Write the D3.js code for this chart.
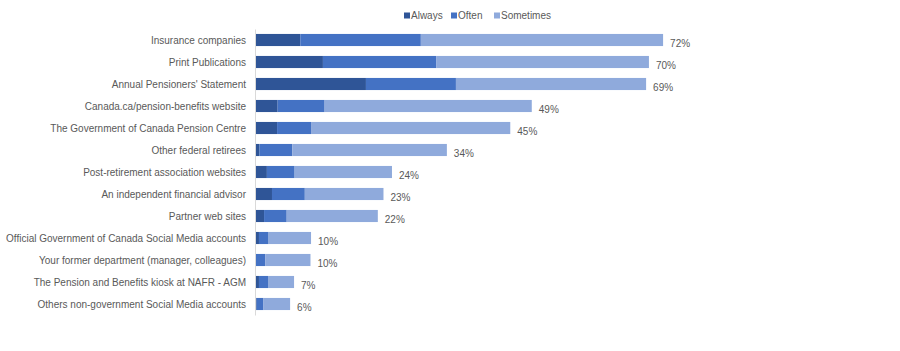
<!DOCTYPE html>
<html>
<head>
<meta charset="utf-8">
<script src="https://cdn.jsdelivr.net/npm/d3@7"></script>
<style>
  body { margin: 0; background: #fff; }
  svg text { font-family: "Liberation Sans", Arial, sans-serif; }
</style>
</head>
<body>
<div id="container"></div>
<script>
const width = 900;
const height = 351;

const categories = [
    'Insurance companies',
    'Print Publications',
    "Annual Pensioners' Statement",
    'Canada.ca/pension-benefits website',
    'The Government of Canada Pension Centre',
    'Other federal retirees',
    'Post-retirement association websites',
    'An independent financial advisor',
    'Partner web sites',
    'Official Government of Canada Social Media accounts',
    'Your former department (manager, colleagues)',
    'The Pension and Benefits kiosk at NAFR - AGM',
    'Others non-government Social Media accounts'
];
const seriesNames = ['Always', 'Often', 'Sometimes'];
const always = [8.0, 12.0, 19.6, 4.0, 3.9, 0.8, 2.1, 3.0, 1.6, 0.7, 0.0, 0.7, 0.3];
const often = [21.3, 20.0, 15.9, 8.3, 6.0, 5.8, 4.9, 5.8, 4.0, 1.7, 1.8, 1.6, 1.2];
const sometimes = [42.8, 37.6, 33.6, 36.6, 35.2, 27.3, 17.2, 13.9, 16.1, 7.5, 8.0, 4.6, 4.7];
const totalLabels = ['72%', '70%', '69%', '49%', '45%', '34%', '24%', '23%', '22%', '10%', '10%', '7%', '6%'];

const colors = ['#2F5597', '#4472C4', '#8FAADC'];

const rows = categories.map((c, i) => ({
    cat: c, Always: always[i], Often: often[i], Sometimes: sometimes[i], label: totalLabels[i]
}));

const svg = d3.select('#container').append('svg')
    .attr('width', width)
    .attr('height', height);

const x = d3.scaleLinear().domain([0, 100]).range([255, 821]);
const y = d3.scaleBand().domain(categories).range([29, 315]).paddingInner(0.45).paddingOuter(0.225);
const color = d3.scaleOrdinal().domain(seriesNames).range(colors);

const stack = d3.stack().keys(seriesNames)(rows);

// bars
svg.append('g')
    .selectAll('g')
    .data(stack)
    .join('g')
    .attr('fill', d => color(d.key))
    .selectAll('rect')
    .data(d => d)
    .join('rect')
    .attr('x', d => x(d[0]))
    .attr('y', d => y(d.data.cat))
    .attr('width', d => x(d[1]) - x(d[0]))
    .attr('height', y.bandwidth());

// category axis
const yAxis = svg.append('g')
    .attr('transform', `translate(${x(0)},0)`)
    .call(d3.axisLeft(y).tickSize(0).tickPadding(9));
yAxis.select('.domain').attr('stroke', '#d9d9d9');
yAxis.selectAll('text')
    .attr('fill', '#595959')
    .attr('font-size', 10)
    .attr('dy', '0.4em')
    .style('font-family', '"Liberation Sans", Arial, sans-serif');

// total labels
const last = stack[stack.length - 1];
svg.append('g')
    .selectAll('text')
    .data(last)
    .join('text')
    .attr('x', d => x(d[1]) + 7)
    .attr('y', d => y(d.data.cat) + y.bandwidth() / 2 + 3)
    .attr('dy', '0.38em')
    .attr('fill', '#595959')
    .attr('font-size', 10)
    .text(d => d.data.label);

// legend
const legendX = [404, 451, 494];
const legend = svg.append('g')
    .selectAll('g')
    .data(seriesNames)
    .join('g')
    .attr('transform', (d, i) => `translate(${legendX[i]},15.5)`);
legend.append('rect')
    .attr('x', 0).attr('y', -3)
    .attr('width', 6).attr('height', 6)
    .attr('fill', d => color(d));
legend.append('text')
    .attr('x', 7)
    .attr('dy', '0.38em')
    .attr('fill', '#595959')
    .attr('font-size', 10)
    .text(d => d);
</script>
</body>
</html>
